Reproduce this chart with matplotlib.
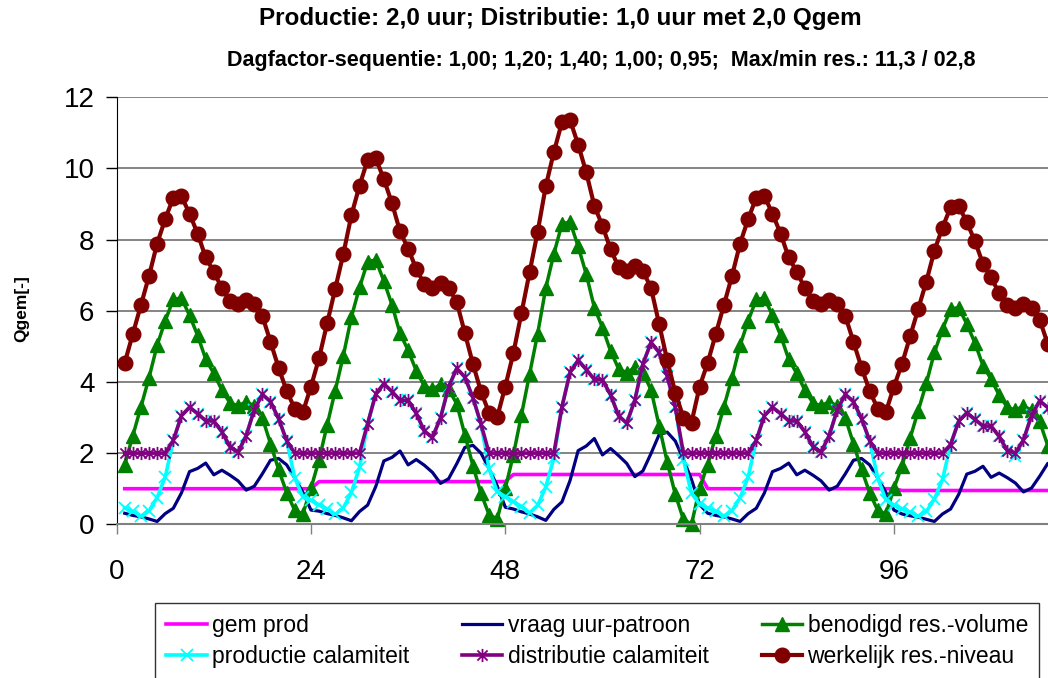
import matplotlib
matplotlib.use("Agg")
import matplotlib.pyplot as plt
from matplotlib.path import Path

plt.rcParams["font.family"] = ["Liberation Sans", "DejaVu Sans"]

hours = list(range(1, 121))

gem_prod = [1.00] * 24 + [1.20] * 24 + [1.40] * 24 + [1.00] * 24 + [0.95] * 24

vraag = [
    0.31, 0.25, 0.21, 0.15, 0.08, 0.30, 0.45, 0.88, 1.48, 1.57, 1.72, 1.39, 1.52, 1.38, 1.22, 0.96, 1.07, 1.42, 1.80, 1.85, 1.67, 1.30, 0.90, 0.40,
    0.37, 0.30, 0.25, 0.18, 0.10, 0.36, 0.54, 1.06, 1.78, 1.88, 2.06, 1.67, 1.82, 1.66, 1.46, 1.15, 1.28, 1.70, 2.16, 2.22, 2.00, 1.56, 1.08, 0.48,
    0.43, 0.35, 0.29, 0.21, 0.11, 0.42, 0.63, 1.23, 2.07, 2.20, 2.41, 1.95, 2.13, 1.93, 1.71, 1.34, 1.50, 1.99, 2.52, 2.59, 2.34, 1.82, 1.26, 0.56,
    0.31, 0.25, 0.21, 0.15, 0.08, 0.30, 0.45, 0.88, 1.48, 1.57, 1.72, 1.39, 1.52, 1.38, 1.22, 0.96, 1.07, 1.42, 1.80, 1.85, 1.67, 1.30, 0.90, 0.40,
    0.29, 0.24, 0.20, 0.14, 0.08, 0.29, 0.43, 0.84, 1.41, 1.49, 1.63, 1.32, 1.44, 1.31, 1.16, 0.91, 1.02, 1.35, 1.71, 1.76, 1.59, 1.24, 0.86, 0.38,
]

benodigd = [
    1.68, 2.49, 3.30, 4.12, 5.03, 5.72, 6.32, 6.36, 5.87, 5.31, 4.64, 4.24, 3.77, 3.41, 3.33, 3.44, 3.33, 2.99, 2.27, 1.54, 0.89, 0.39, 0.29, 1.01,
    1.81, 2.79, 3.76, 4.74, 5.83, 6.66, 7.38, 7.43, 6.84, 6.17, 5.37, 4.89, 4.32, 3.89, 3.79, 3.93, 3.79, 3.39, 2.52, 1.65, 0.87, 0.27, 0.15, 1.01,
    1.95, 3.08, 4.22, 5.36, 6.64, 7.60, 8.44, 8.50, 7.81, 7.03, 6.09, 5.53, 4.87, 4.37, 4.26, 4.41, 4.26, 3.78, 2.77, 1.75, 0.84, 0.14, 0.00, 1.01,
    1.68, 2.49, 3.30, 4.12, 5.03, 5.72, 6.32, 6.36, 5.87, 5.31, 4.64, 4.24, 3.77, 3.41, 3.33, 3.44, 3.33, 2.99, 2.27, 1.54, 0.89, 0.39, 0.29, 1.01,
    1.65, 2.42, 3.19, 3.96, 4.83, 5.48, 6.05, 6.09, 5.63, 5.10, 4.46, 4.08, 3.63, 3.29, 3.21, 3.32, 3.21, 2.89, 2.21, 1.51, 0.90, 0.42, 0.33, 1.01,
]

prod_calam = [
    0.46, 0.36, 0.23, 0.38, 0.75, 1.33, 2.36, 3.05, 3.29, 3.11, 2.91, 2.90, 2.60, 2.18, 2.03, 2.49, 3.22, 3.65, 3.45, 2.97, 2.35, 1.30, 0.77, 0.67,
    0.55, 0.43, 0.28, 0.46, 0.90, 1.60, 2.83, 3.66, 3.95, 3.73, 3.49, 3.48, 3.12, 2.62, 2.44, 2.99, 3.86, 4.38, 4.14, 3.56, 2.82, 1.56, 0.91, 0.78,
    0.64, 0.50, 0.32, 0.53, 1.05, 1.86, 3.30, 4.27, 4.61, 4.35, 4.07, 4.06, 3.64, 3.05, 2.84, 3.49, 4.51, 5.11, 4.83, 4.16, 3.29, 1.82, 0.87, 0.56,
    0.46, 0.36, 0.23, 0.38, 0.75, 1.33, 2.36, 3.05, 3.29, 3.11, 2.91, 2.90, 2.60, 2.18, 2.03, 2.49, 3.22, 3.65, 3.45, 2.97, 2.35, 1.30, 0.69, 0.53,
    0.44, 0.34, 0.22, 0.36, 0.71, 1.26, 2.24, 2.90, 3.13, 2.95, 2.76, 2.76, 2.47, 2.07, 1.93, 2.37, 3.06, 3.47, 3.28, 2.82, 2.23, 1.24, 0.67, 0.56,
]

distr_calam = [
    2.00, 2.00, 2.00, 2.00, 2.00, 2.00, 2.36, 3.05, 3.29, 3.11, 2.91, 2.90, 2.60, 2.18, 2.03, 2.49, 3.22, 3.65, 3.45, 2.97, 2.35, 2.00, 2.00, 2.00,
    2.00, 2.00, 2.00, 2.00, 2.00, 2.00, 2.83, 3.66, 3.95, 3.73, 3.49, 3.48, 3.12, 2.62, 2.44, 2.99, 3.86, 4.38, 4.14, 3.56, 2.82, 2.00, 2.00, 2.00,
    2.00, 2.00, 2.00, 2.00, 2.00, 2.00, 3.30, 4.27, 4.61, 4.35, 4.07, 4.06, 3.64, 3.05, 2.84, 3.49, 4.51, 5.11, 4.83, 4.16, 3.29, 2.00, 2.00, 2.00,
    2.00, 2.00, 2.00, 2.00, 2.00, 2.00, 2.36, 3.05, 3.29, 3.11, 2.91, 2.90, 2.60, 2.18, 2.03, 2.49, 3.22, 3.65, 3.45, 2.97, 2.35, 2.00, 2.00, 2.00,
    2.00, 2.00, 2.00, 2.00, 2.00, 2.00, 2.24, 2.90, 3.13, 2.95, 2.76, 2.76, 2.47, 2.07, 2.00, 2.37, 3.06, 3.47, 3.28, 2.82, 2.23, 2.00, 2.00, 2.00,
]

werkelijk = [
    4.54, 5.35, 6.16, 6.98, 7.89, 8.58, 9.18, 9.22, 8.73, 8.17, 7.50, 7.10, 6.63, 6.27, 6.19, 6.30, 6.19, 5.85, 5.13, 4.40, 3.75, 3.25, 3.15, 3.87,
    4.67, 5.65, 6.62, 7.60, 8.69, 9.52, 10.24, 10.29, 9.70, 9.03, 8.23, 7.75, 7.18, 6.75, 6.65, 6.79, 6.65, 6.25, 5.38, 4.51, 3.73, 3.13, 3.01, 3.87,
    4.81, 5.94, 7.08, 8.22, 9.50, 10.46, 11.30, 11.36, 10.67, 9.89, 8.95, 8.39, 7.73, 7.23, 7.12, 7.27, 7.12, 6.64, 5.63, 4.61, 3.70, 3.00, 2.86, 3.87,
    4.54, 5.35, 6.16, 6.98, 7.89, 8.58, 9.18, 9.22, 8.73, 8.17, 7.50, 7.10, 6.63, 6.27, 6.19, 6.30, 6.19, 5.85, 5.13, 4.40, 3.75, 3.25, 3.15, 3.87,
    4.51, 5.28, 6.05, 6.82, 7.69, 8.34, 8.91, 8.95, 8.49, 7.96, 7.32, 6.94, 6.49, 6.15, 6.07, 6.18, 6.07, 5.75, 5.07, 4.37, 3.76, 3.28, 3.19, 3.87,
]

x_ticks = [0, 24, 48, 72, 96]
y_ticks = [0, 2, 4, 6, 8, 10, 12]

title1 = "Productie: 2,0 uur; Distributie: 1,0 uur met 2,0 Qgem"
title2 = "Dagfactor-sequentie: 1,00; 1,20; 1,40; 1,00; 0,95;  Max/min res.: 11,3 / 02,8"

# Excel-style star marker: x plus vertical bar
star = Path([(-1, -1), (1, 1), (-1, 1), (1, -1), (0, -1.3), (0, 1.3)],
            [Path.MOVETO, Path.LINETO, Path.MOVETO, Path.LINETO, Path.MOVETO, Path.LINETO])

fig = plt.figure(figsize=(10.48, 6.78), dpi=100)
ax = fig.add_axes([0.1113, 0.2267, 0.9271, 0.6298])

l1, = ax.plot(hours, gem_prod, color="#FF00FF", lw=2.6, label="gem prod", clip_on=False)
l2, = ax.plot(hours, vraag, color="#000080", lw=2.3, label="vraag uur-patroon", clip_on=False)
l3, = ax.plot(hours, benodigd, color="#008000", lw=2.5, marker="^", ms=9.5, label="benodigd res.-volume", clip_on=False)
l4, = ax.plot(hours, prod_calam, color="#00FFFF", lw=2.6, marker="x", ms=8.5, mew=1.3, label="productie calamiteit", clip_on=False)
l5, = ax.plot(hours, distr_calam, color="#800080", lw=2.6, marker=star, ms=9.5, mew=1.3, mfc="none",
              label="distributie calamiteit", clip_on=False)
l6, = ax.plot(hours, werkelijk, color="#800000", lw=3.0, marker="o", ms=10.5, label="werkelijk res.-niveau", clip_on=False)

ax.set_xlim(0, 120)
ax.set_ylim(0, 12)
ax.set_xticks(x_ticks)
ax.set_yticks(y_ticks)
ax.yaxis.grid(True, color="#707070", lw=1.2)
ax.set_axisbelow(True)
for s in ("top", "right"):
    ax.spines[s].set_visible(False)
ax.spines["left"].set_color("black")
ax.spines["bottom"].set_color("#808080")
ax.spines["bottom"].set_linewidth(1.5)
ax.tick_params(axis="y", direction="out", length=8, width=1, labelsize=20, pad=8)
ax.tick_params(axis="x", direction="out", length=7, width=1, color="#808080", labelsize=20, pad=18)

fig.text(0.535, 0.972, title1, ha="center", va="center", fontsize=17.5, fontweight="bold")
fig.text(0.574, 0.911, title2, ha="center", va="center", fontsize=15.5, fontweight="bold")
fig.text(0.021, 0.545, "Qgem[-]", rotation=90, ha="center", va="center", fontsize=12.5, fontweight="bold")

handles = [l1, l4, l2, l5, l3, l6]
leg = fig.legend(handles=handles, loc="upper left", bbox_to_anchor=(155 / 1048, 1 - 603 / 678),
                 ncol=3, fontsize=16.5, frameon=True, fancybox=False, edgecolor="black",
                 handlelength=1.75, handletextpad=0.25, columnspacing=2.3, labelspacing=0.35,
                 borderpad=0.5, numpoints=1, borderaxespad=0)
leg.get_frame().set_linewidth(1.0)

fig.savefig("out.png", dpi=100)
